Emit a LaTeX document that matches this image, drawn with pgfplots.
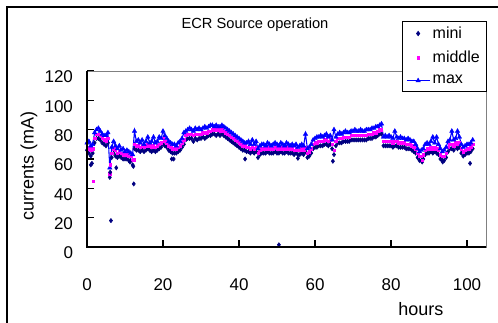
\documentclass[border=0pt]{standalone}
\usepackage{fontspec}
\setmainfont{Liberation Sans}
\usepackage{pgfplots}
\pgfplotsset{compat=1.18}
\usepackage{pgfplotstable}
\definecolor{navyc}{RGB}{0,0,128}
\definecolor{magc}{RGB}{255,0,255}
\definecolor{bluec}{RGB}{0,0,255}
\definecolor{framegray}{RGB}{128,128,128}

\pgfplotstableread{
x lo mid hi
0 66 68 71
0.5 64 67 72
1 62 66 69
1.5 64 67 70
2 71 74 78
2.5 74 77 80
3 74 77 81
3.5 73 76 79
4 71 74 77
4.5 70 73 76
5 69 72 76
5.5 71 74 78
6 47.5 50 54
6.5 61 64 68
7 64 67 72
7.5 62 66 69
8 61 64 67
8.5 62 65 69
9 61 64 66
9.5 60 63 67
10 60 63 65
10.5 60 63 66
11 59 62 65
11.5 59 62 64
12 56 59 63
12.5 67 70 79
13 66 69 72
13.5 66 69 73
14 65 68 71
14.5 66 69 73
15 65 68 70
15.5 66 69 72
16 67 70 75
16.5 66 69 71
17 65 68 72
17.5 66 69 75
18 65 68 71
18.5 66 69 72
19 67 70 75
19.5 68 71 74
20 70 74 79
20.5 69 72 76
21 68 71 74
21.5 66 69 72
22 65 68 71
22.5 64 67 70
23 64 67 70
23.5 64 67 69
24 65 68 71
24.5 66 69 72
25 68 71 74
25.5 70 73 78
26 73 76 79
26.5 74 77 80
27 74 77 81
27.5 74 77 80
28 72 76 79
28.5 74 77 81
29 73 77 80
29.5 74 77 81
30 74 77 80
30.5 75 78 81
31 74 78 82
31.5 75 78 81
32 76 79 82
32.5 76 79 83
33 77 80 83
33.5 77 80 82
34 76 80 83
34.5 77 80 82
35 76 79 82
35.5 77 80 83
36 76 79 82
36.5 75 78 81
37 74 77 80
37.5 73 76 79
38 72 75 78
38.5 71 74 77
39 70 73 76
39.5 69 72 75
40 68 71 74
40.5 67 70 73
41 66 69 72
41.5 66 69 71
42 65 68 71
42.5 65 68 72
43 64 67 70
43.5 65 68 73
44 64 67 70
44.5 65 68 72
45 61 64 67
45.5 63 66 69
46 64 67 70
46.5 64 67 70
47 64 67 69
47.5 65 68 71
48 64 67 70
48.5 64 67 69
49 64 67 70
49.5 65 68 71
50 64 67 70
50.5 64 67 69
51 65 68 71
51.5 64 67 70
52 64 67 69
52.5 65 68 71
53 64 67 70
53.5 64 67 69
54 64 67 70
54.5 63 66 69
55 64 67 70
55.5 63 66 68
56 63 66 69
56.5 64 67 70
57 63 66 69
57.5 65 68 77
58 61 64 67
58.5 62 65 68
59 64 67 70
59.5 67 70 73
60 68 71 74
60.5 68 71 75
61 69 72 75
61.5 69 72 76
62 69 72 75
62.5 70 73 76
63 70 73 77
63.5 69 72 75
64 70 73 76
64.5 67 70 73
65 63 66 80
65.5 69 72 75
66 71 74 77
66.5 71 74 78
67 71 74 77
67.5 72 75 78
68 72 75 79
68.5 72 75 78
69 72 75 78
69.5 73 76 79
70 73 76 79
70.5 73 76 80
71 73 76 79
71.5 73 76 79
72 73 76 80
72.5 73 76 79
73 73 76 79
73.5 73 76 80
74 74 77 80
74.5 74 77 80
75 74 77 81
75.5 75 78 81
76 75 78 82
76.5 76 79 82
77 77 80 83
77.5 77 80 84
78 69 72 75
78.5 69 72 76
79 69 72 75
79.5 69 72 76
80 69 72 75
80.5 68 71 74
81 69 72 79
81.5 69 72 75
82 68 71 74
82.5 68 71 75
83 68 71 74
83.5 68 71 74
84 67 70 73
84.5 67 70 74
85 67 70 73
85.5 66 69 72
86 65 68 72
86.5 64 67 70
87 61 64 67
87.5 59 62 65
88 59 62 66
88.5 60 63 67
89 63 66 70
89.5 64 67 71
90 64 67 70
90.5 65 68 72
91 64 67 75
91.5 65 68 71
92 64 67 75
92.5 63 66 70
93 60 63 67
93.5 59 62 65
94 59 62 66
94.5 61 64 68
95 65 68 72
95.5 67 70 73
96 67 70 79
96.5 66 69 73
97 68 71 74
97.5 67 70 79
98 68 71 75
98.5 64 67 70
99 62 65 68
99.5 63 66 69
100 64 67 70
100.5 64 67 70
101 65 68 71
101.5 67 70 73
}\data

\pgfplotstableread{
x y
1.0 56
1.3 57
6.1 51
6.3 18
7.7 54
11.3 58
12.2 55
12.3 43
22.3 60
22.8 60
41.6 60
50.5 1.5
55.5 60.5
64.7 58.5
88.2 58
93.6 58
100.8 57
}\lowout

\pgfplotstableread{
x y
1.6 45
6.2 56
12.3 59.5
88.3 59
}\midout

\begin{document}
\begin{tikzpicture}
\useasboundingbox (-65.25pt,-57pt) rectangle (308.25pt,185.25pt);
\draw[black, line width=1pt] (-60pt,-70pt) rectangle (320pt,180pt);
\begin{axis}[
  name=ax,
  scale only axis,
  width=299.25pt, height=132pt,
  xmin=0, xmax=105, ymin=0, ymax=120,
  xtick={0,20,40,60,80,100},
  ytick={0,20,40,60,80,100,120},
  xtick pos=bottom, ytick pos=left,
  tick align=inside,
  major tick length=5pt,
  tick style={black, line width=0.8pt},
  axis line style={draw=framegray, line width=0.6pt},
  /pgf/number format/assume math mode=true,
  tick label style={font=\fontsize{12.75}{14}\selectfont},
  xticklabel style={yshift=-20pt},
  yticklabel style={xshift=-7pt, yshift=-4.5pt},
  title={ECR Source operation},
  title style={at={(axis description cs:0.421,1.216)}, anchor=center, font=\fontsize{11}{13}\selectfont},
  xlabel={hours},
  ylabel={currents (mA)},
  every axis x label/.style={at={(axis description cs:0.837,-0.352)}, anchor=center, font=\fontsize{13.5}{15}\selectfont},
  every axis y label/.style={at={(axis description cs:-0.1454,0.46)}, rotate=90, anchor=center, font=\fontsize{13.5}{15}\selectfont},
  legend style={at={(axis description cs:0.789,1.284)}, anchor=north west, draw=black, line width=0.6pt,
    font=\fontsize{12}{13}\selectfont, row sep=4pt, inner xsep=3pt, inner ysep=2pt},
  legend cell align=left,
  clip=false,
]
\addplot[only marks, mark=diamond*, mark size=1.6pt, color=navyc] table[x=x, y=lo] {\data};
\addlegendentry{mini}
\addplot[only marks, mark=square*, mark size=0.9pt, color=magc] table[x=x, y=mid] {\data};
\addlegendentry{middle}
\addplot[color=bluec, line width=0.8pt, mark=triangle*, mark size=1.9pt, mark options={draw=bluec, fill=bluec, line width=0.3pt}] table[x=x, y=hi] {\data};
\addlegendentry{max}
\addplot[only marks, mark=diamond*, mark size=1.6pt, color=navyc, forget plot] table[x=x, y=y] {\lowout};
\addplot[only marks, mark=square*, mark size=0.9pt, color=magc, forget plot] table[x=x, y=y] {\midout};
\end{axis}
\draw[black, line width=1pt] (ax.north west) -- (ax.south west) -- (ax.south east);
\end{tikzpicture}
\end{document}
